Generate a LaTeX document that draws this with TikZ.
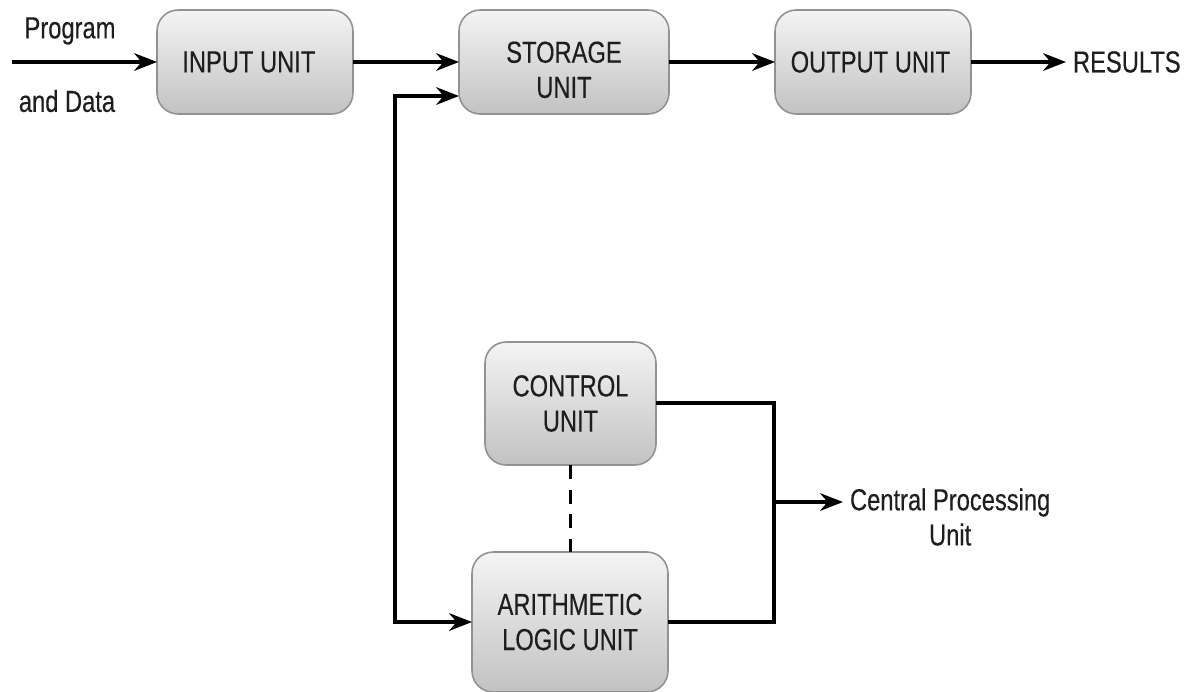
\documentclass[tikz,border=0pt]{standalone}
\usepackage{fontspec}
\setmainfont{Liberation Sans}[FakeStretch=0.78, FakeBold=0.3]
\usetikzlibrary{arrows.meta}
\definecolor{ink}{HTML}{1E1E1E}
\definecolor{boxtop}{HTML}{F4F4F4}
\definecolor{boxbot}{HTML}{C2C2C2}
\definecolor{boxline}{HTML}{929292}
\begin{document}
\begin{tikzpicture}[x=0.02cm,y=-0.02cm,
  font=\fontsize{17.3}{20}\selectfont, text=ink,
  unitbox/.style={rounded corners=12pt, draw=boxline, line width=0.9pt,
    top color=boxtop, bottom color=boxbot, align=center, outer sep=0pt,
    inner sep=0pt},
  label/.style={align=center, inner sep=0pt},
  wire/.style={line width=2pt, draw=black},
  arr/.style={wire, -{Stealth[length=13pt,width=10pt]}},
  dualarr/.style={wire, {Stealth[length=13pt,width=10pt]}-{Stealth[length=13pt,width=10pt]}}]
\useasboundingbox (0,0) rectangle (1185,691);

% processing units
\node[unitbox, minimum width=3.92cm, minimum height=2.08cm] (in) at (255,62) {\hspace*{-7pt}INPUT UNIT};
\node[unitbox, minimum width=4.2cm, minimum height=2.08cm] (st) at (564,62) {\rule{0pt}{21pt}STORAGE\\UNIT};
\node[unitbox, minimum width=3.92cm, minimum height=2.08cm] (out) at (873,62) {\hspace*{-3pt}OUTPUT UNIT};
\node[unitbox, minimum width=3.42cm, minimum height=2.46cm] (ctl) at (570.5,403.5) {CONTROL\\UNIT};
\node[unitbox, minimum width=3.92cm, minimum height=2.8cm] (alu) at (570,622) {ARITHMETIC\\LOGIC UNIT};

% free labels
\node[label] (prog) at (70,31) {Program};
\node[label] (data) at (67,101) {and Data};
\node[label, anchor=west, outer sep=4pt] (res) at (1066,62) {RESULTS};
\node[label, anchor=west, outer sep=4pt] (cpu) at (843,517) {Central Processing\\Unit};

% junction points
\coordinate (src) at (12,62);
\coordinate (j) at (395,96);
\coordinate (bus) at (774,502);

% data flow
\draw[arr] (src) -- (in.west);
\draw[arr] (in.east) -- (st.west);
\draw[arr] (st.east) -- (out.west);
\draw[arr] (out.east) -- (res.west);
\draw[dualarr] (st.west |- j) -- (j) |- (alu.west);

% CPU grouping
\draw[wire] (ctl.east |- 0,403) -| (bus) |- (alu.east);
\draw[arr] (bus) -- (cpu.west |- bus);
\draw[line width=1.4pt, dash pattern=on 8pt off 6pt] (ctl.south) -- (alu.north -| ctl.south);
\end{tikzpicture}
\end{document}
